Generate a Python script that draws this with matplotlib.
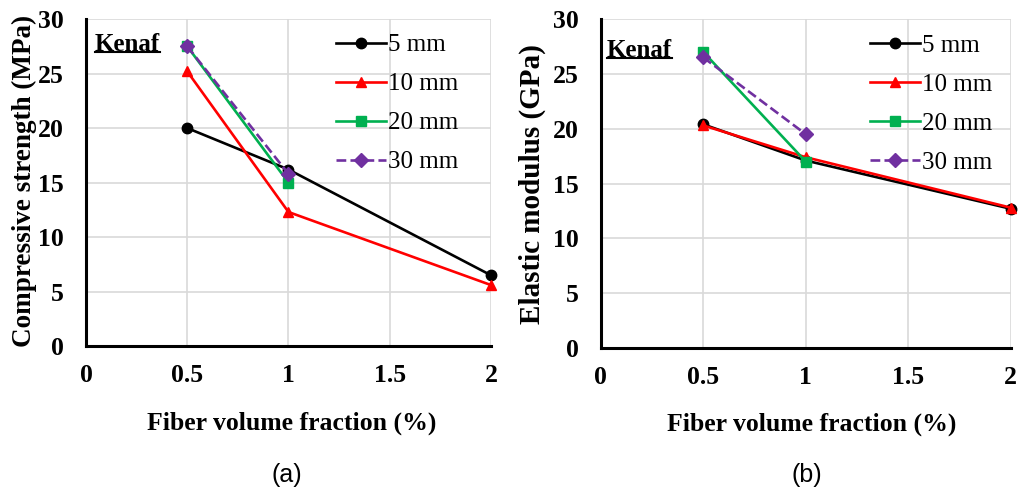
import numpy as np
import matplotlib.pyplot as plt

plt.rcParams['font.family'] = ['Liberation Serif', 'DejaVu Serif']

# data
x3 = [0.5, 1, 2]
x2 = [0.5, 1]
labels = ['5 mm', '10 mm', '20 mm', '30 mm']

# (a) compressive strength (MPa)
cs_5 = [20.0, 16.2, 6.5]
cs_10 = [25.2, 12.3, 5.6]
cs_20 = [27.5, 15.0]
cs_30 = [27.5, 15.8]

# (b) elastic modulus (GPa)
em_5 = [20.4, 17.1, 12.7]
em_10 = [20.3, 17.4, 12.8]
em_20 = [27.0, 17.0]
em_30 = [26.5, 19.5]

colors = ['black', '#FF0000', '#00B050', '#7030A0']
markers = ['o', '^', 's', 'D']
styles = ['-', '-', '-', '--']

fig = plt.figure(figsize=(10.2, 4.93), dpi=100)
ax1 = fig.add_axes([0.0843, 0.298, 0.397, 0.6633])
ax2 = fig.add_axes([0.589, 0.294, 0.402, 0.6673])

# axis, data, ylabel, ylabel size, ylabel pos, xlabel pos, kenaf pos, legend anchor, tag x
panels = [
    (ax1, [cs_5, cs_10, cs_20, cs_30], 'Compressive strength (MPa)', 19.5,
     (-0.152, 0.505), (0.509, -0.235), (0.022, 0.957), (0.945, 0.985), 0.281),
    (ax2, [em_5, em_10, em_20, em_30], 'Elastic modulus (GPa)', 21,
     (-0.168, 0.50), (0.515, -0.232), (0.015, 0.94), (0.98, 0.985), 0.791),
]
tags = ['(a)', '(b)']

kenaf = []
for k, (ax, series, ylab, yls, ylp, xlp, kp, la, tx) in enumerate(panels):
    for i, ys in enumerate(series):
        xs = x3 if len(ys) == 3 else x2
        ax.plot(xs, ys, color=colors[i], marker=markers[i], ls=styles[i],
                lw=1.9, ms=7.5 if markers[i] != 'D' else 7, label=labels[i],
                clip_on=False, zorder=3)
    ax.set_xlim(0, 2)
    ax.set_ylim(0, 30)
    ax.set_xticks([0, 0.5, 1, 1.5, 2])
    ax.set_xticklabels(['0', '0.5', '1', '1.5', '2'])
    ax.set_yticks(range(0, 31, 5))
    ax.grid(True, color='#D9D9D9', lw=1.2)
    ax.set_axisbelow(True)
    for s in ['top', 'right']:
        ax.spines[s].set_visible(False)
    for s in ['left', 'bottom']:
        ax.spines[s].set_linewidth(2.2)
        ax.spines[s].set_zorder(4)
    ax.tick_params(length=0, labelsize=18.5)
    ax.tick_params(axis='x', pad=13)
    ax.tick_params(axis='y', pad=16)
    for t in ax.get_xticklabels() + ax.get_yticklabels():
        t.set_fontweight('bold')
    ax.set_xlabel('Fiber volume fraction (%)', fontsize=18.5, fontweight='bold', va='center')
    ax.xaxis.set_label_coords(*xlp)
    ax.set_ylabel(ylab, fontsize=yls, fontweight='bold', va='center')
    ax.yaxis.set_label_coords(*ylp)
    kt = ax.text(kp[0], kp[1], 'Kenaf', transform=ax.transAxes,
                 fontsize=18, fontweight='bold', ha='left', va='top')
    kenaf.append((ax, kt))
    ax.legend(loc='upper right', frameon=False, fontsize=18,
              handlelength=2.0, handletextpad=0.1, labelspacing=0.66,
              borderaxespad=0, bbox_to_anchor=la)
    fig.text(tx, 0.036, tags[k], ha='center', va='center',
             fontsize=18, family='Liberation Sans')

# underline for "Kenaf"
fig.canvas.draw()
r = fig.canvas.get_renderer()
for ax, kt in kenaf:
    bb = kt.get_window_extent(r).transformed(ax.transAxes.inverted())
    ax.plot([bb.x0, bb.x1], [bb.y0 + 0.012, bb.y0 + 0.012], color='black', lw=1.5,
            transform=ax.transAxes, clip_on=False)

fig.savefig('out.png', dpi=100)
